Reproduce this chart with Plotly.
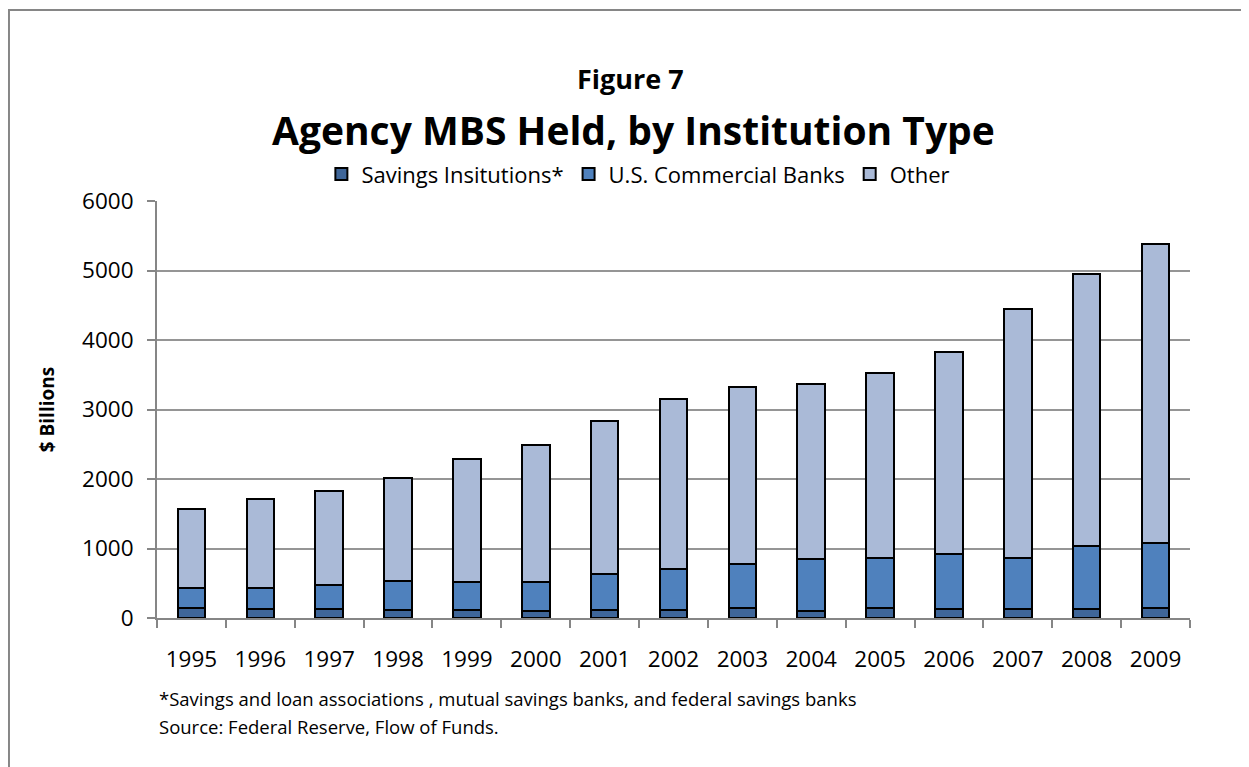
import plotly.graph_objects as go

years = ["1995", "1996", "1997", "1998", "1999", "2000", "2001", "2002",
         "2003", "2004", "2005", "2006", "2007", "2008", "2009"]
savings = [140, 130, 130, 120, 115, 105, 115, 120, 140, 105, 140, 125, 134, 130, 144]
commercial = [297, 307, 351, 414, 404, 414, 520, 591, 635, 737, 726, 794, 727, 905, 938]
other = [1136, 1276, 1347, 1486, 1775, 1977, 2193, 2439, 2544, 2520, 2659, 2909, 3588, 3910, 4295]
y_ticks = [0, 1000, 2000, 3000, 4000, 5000, 6000]

FONT = "Open Sans"
fig = go.Figure()
series = [("Savings Insitutions*", savings, "#3F6699"),
          ("U.S. Commercial Banks", commercial, "#4F81BD"),
          ("Other", other, "#AABAD7")]
for name, vals, col in series:
    fig.add_trace(go.Bar(x=years, y=vals, name=name,
                         marker=dict(color=col, line=dict(color="black", width=2))))

fig.update_layout(
    width=1241, height=759,
    barmode="stack", bargap=0.6,
    plot_bgcolor="white", paper_bgcolor="white",
    margin=dict(l=149, r=59, t=193, b=149, autoexpand=False),
    font=dict(family=FONT, color="black", size=20),
    showlegend=True,
    legend=dict(orientation="h", x=0.466, xanchor="center", y=1.064, yanchor="middle",
                font=dict(size=22, family=FONT), traceorder="normal",
                itemwidth=30, tracegroupgap=0, itemclick=False),
    xaxis=dict(showline=True, linecolor="#868686", linewidth=2,
               ticks="outside", tickson="boundaries", ticklen=8, tickcolor="#868686",
               tickwidth=2, tickfont=dict(size=22.5, family=FONT), showgrid=False,
               ticklabelstandoff=20),
    yaxis=dict(range=[0, 6000], tickvals=y_ticks, showline=True, linecolor="#868686",
               linewidth=2, ticks="outside", ticklen=8, tickcolor="#868686", tickwidth=2,
               showgrid=True, gridcolor="#959595", gridwidth=1.5,
               tickfont=dict(size=22.5, family=FONT), zeroline=False, ticklabelstandoff=9,
               title=dict(text="<b>$ Billions</b>", font=dict(size=19, family=FONT), standoff=22)),
    annotations=[
        dict(text="<b>Figure 7</b>", x=0.458, y=1.293, xref="paper", yref="paper",
             showarrow=False, font=dict(size=27, family=FONT), xanchor="center", yanchor="middle"),
        dict(text="<b>Agency MBS Held, by Institution Type</b>", x=0.461, y=1.172,
             xref="paper", yref="paper", showarrow=False,
             font=dict(size=39, family=FONT), xanchor="center", yanchor="middle"),
        dict(text="*Savings and loan associations , mutual savings banks, and federal savings banks",
             x=0.0, y=-0.194, xref="paper", yref="paper", showarrow=False,
             font=dict(size=18.5, family=FONT), xanchor="left", yanchor="middle"),
        dict(text="Source: Federal Reserve, Flow of Funds.",
             x=0.0, y=-0.259, xref="paper", yref="paper", showarrow=False,
             font=dict(size=18.5, family=FONT), xanchor="left", yanchor="middle"),
    ],
    shapes=[dict(type="rect", xref="paper", yref="paper", x0=-0.1433, y0=-0.6,
                 x1=1.2, y1=1.458, line=dict(color="#868686", width=2), layer="below")],
)
fig.write_html("out.html")
